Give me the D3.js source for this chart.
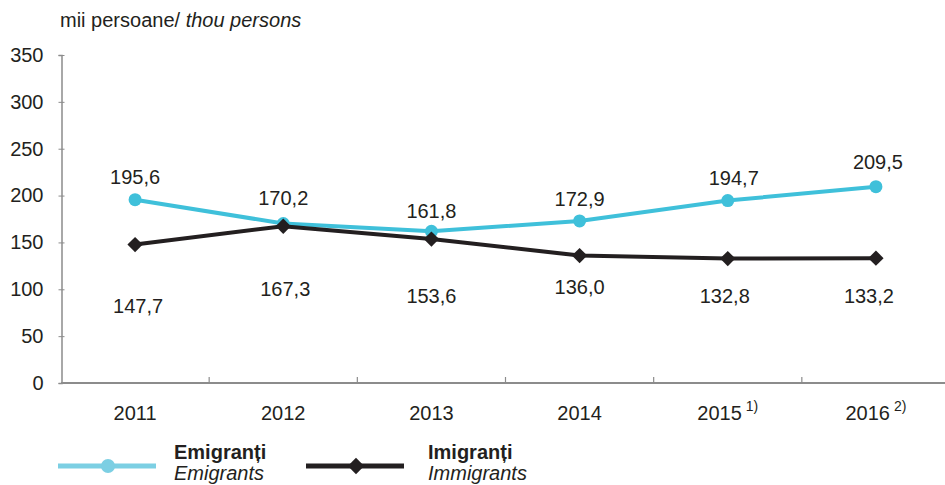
<!DOCTYPE html>
<html lang="ro">
  <head>
    <meta charset="utf-8" />
    <title>Emigranți / Imigranți</title>
    <script src="https://d3js.org/d3.v7.min.js"></script>
    <style>
      body { margin: 0; background: #fff; }
      svg { font-family: "Liberation Sans", Arial, sans-serif; }
    </style>
  </head>
  <body>
    <div id="chart"></div>
    <script>
      const years = ["2011", "2012", "2013", "2014", "2015", "2016"];
      const yearNotes = ["", "", "", "", "1)", "2)"];
      const emigrants = [195.6, 170.2, 161.8, 172.9, 194.7, 209.5];
      const immigrants = [147.7, 167.3, 153.6, 136.0, 132.8, 133.2];
      const yTicks = [0, 50, 100, 150, 200, 250, 300, 350];

      // label placement tweaks (pixels)
      const emiLabelDx = [0, 0, 0, 0, 6, 2];
      const emiLabelDy = [-16, -18, -13, -15, -16, -18];
      const immLabelDx = [3, 2, 0, 0, -3, -7];
      const immLabelDy = [68, 70, 64, 38, 44, 45];

      const W = 945, H = 485;
      const cEmi = "#3fc0da", cEmiLegend = "#7ccfe3", cImm = "#231f20";
      const cAxis = "#8c8c8c";
      const fs = 20;

      const svg = d3.select("#chart").append("svg")
        .attr("width", W).attr("height", H);

      const x = d3.scaleBand().domain(years).range([61, 950]);
      const y = d3.scaleLinear().domain([0, 350]).range([383, 55]);
      const cx = (d) => x(d) + x.bandwidth() / 2;
      const fmt = (v) => v.toFixed(1).replace(".", ",");

      // title
      const title = svg.append("text").attr("x", 60).attr("y", 27)
        .attr("font-size", fs).attr("fill", "#231f20");
      title.append("tspan").text("mii persoane/ ");
      title.append("tspan").attr("font-style", "italic").text("thou persons");

      // y axis
      const yAxis = svg.append("g").attr("transform", "translate(61.5,0)")
        .call(d3.axisLeft(y).tickValues(yTicks).tickSize(3).tickPadding(15));
      yAxis.select(".domain").attr("stroke", cAxis).attr("stroke-width", 1.5);
      yAxis.selectAll(".tick line").attr("stroke", cAxis).attr("x2", 3).attr("x1", -3);
      yAxis.selectAll(".tick text").attr("font-size", fs).attr("fill", "#231f20")
        .attr("font-family", "Liberation Sans, Arial, sans-serif");

      // x axis
      const xAxis = svg.append("g").attr("transform", "translate(0,383)")
        .call(d3.axisBottom(x).tickSize(0).tickPadding(23));
      xAxis.select(".domain").remove();
      svg.append("line").attr("x1", 61).attr("x2", 945).attr("y1", 383).attr("y2", 383)
        .attr("stroke", cAxis).attr("stroke-width", 2);
      svg.selectAll(".xsep").data(years.slice(1)).enter().append("line")
        .attr("x1", (d) => x(d)).attr("x2", (d) => x(d))
        .attr("y1", 383).attr("y2", 377)
        .attr("stroke", cAxis).attr("stroke-width", 1.2);
      xAxis.selectAll(".tick text").attr("font-size", fs).attr("fill", "#231f20")
        .attr("font-family", "Liberation Sans, Arial, sans-serif")
        .each(function (d, i) {
          if (yearNotes[i]) {
            d3.select(this).append("tspan").attr("dx", 4).attr("dy", -9)
              .attr("font-size", 14).text(yearNotes[i]);
          }
        });

      // lines
      const line = (vals) => d3.line().x((d, i) => cx(years[i])).y((d) => y(d))(vals);
      svg.append("path").attr("d", line(emigrants)).attr("fill", "none")
        .attr("stroke", cEmi).attr("stroke-width", 4);
      svg.append("path").attr("d", line(immigrants)).attr("fill", "none")
        .attr("stroke", cImm).attr("stroke-width", 4);

      svg.selectAll(".emi").data(emigrants).enter().append("circle")
        .attr("cx", (d, i) => cx(years[i])).attr("cy", (d) => y(d))
        .attr("r", 6.5).attr("fill", cEmi);
      const diamond = d3.symbol().type(d3.symbolDiamond2).size(150);
      svg.selectAll(".imm").data(immigrants).enter().append("path")
        .attr("d", diamond)
        .attr("transform", (d, i) => `translate(${cx(years[i])},${y(d)})`)
        .attr("fill", cImm);

      // value labels
      svg.selectAll(".emiLbl").data(emigrants).enter().append("text")
        .attr("x", (d, i) => cx(years[i]) + emiLabelDx[i])
        .attr("y", (d, i) => y(d) + emiLabelDy[i])
        .attr("text-anchor", "middle").attr("font-size", fs).attr("fill", "#231f20")
        .text(fmt);
      svg.selectAll(".immLbl").data(immigrants).enter().append("text")
        .attr("x", (d, i) => cx(years[i]) + immLabelDx[i])
        .attr("y", (d, i) => y(d) + immLabelDy[i])
        .attr("text-anchor", "middle").attr("font-size", fs).attr("fill", "#231f20")
        .text(fmt);

      // legend
      const legend = [
        { x: 58, ro: "Emigranți", en: "Emigrants", color: cEmiLegend, mark: "circle" },
        { x: 306, ro: "Imigranți", en: "Immigrants", color: cImm, mark: "diamond" },
      ];
      const lg = svg.selectAll(".lg").data(legend).enter().append("g")
        .attr("transform", (d) => `translate(${d.x},466)`);
      lg.append("line").attr("x1", 0).attr("x2", 98).attr("y1", 0).attr("y2", 0)
        .attr("stroke", (d) => d.color).attr("stroke-width", 5);
      lg.filter((d) => d.mark === "circle").append("circle")
        .attr("cx", 50).attr("r", 7).attr("fill", (d) => d.color);
      lg.filter((d) => d.mark === "diamond").append("path")
        .attr("d", d3.symbol().type(d3.symbolDiamond2).size(170))
        .attr("transform", "translate(50,0)").attr("fill", (d) => d.color);
      lg.append("text").attr("x", (d, i) => (i === 0 ? 116 : 122)).attr("y", -7)
        .attr("font-size", fs).attr("font-weight", "bold").attr("fill", "#231f20")
        .text((d) => d.ro);
      lg.append("text").attr("x", (d, i) => (i === 0 ? 116 : 122)).attr("y", 14)
        .attr("font-size", fs).attr("font-style", "italic").attr("fill", "#231f20")
        .text((d) => d.en);
    </script>
  </body>
</html>
